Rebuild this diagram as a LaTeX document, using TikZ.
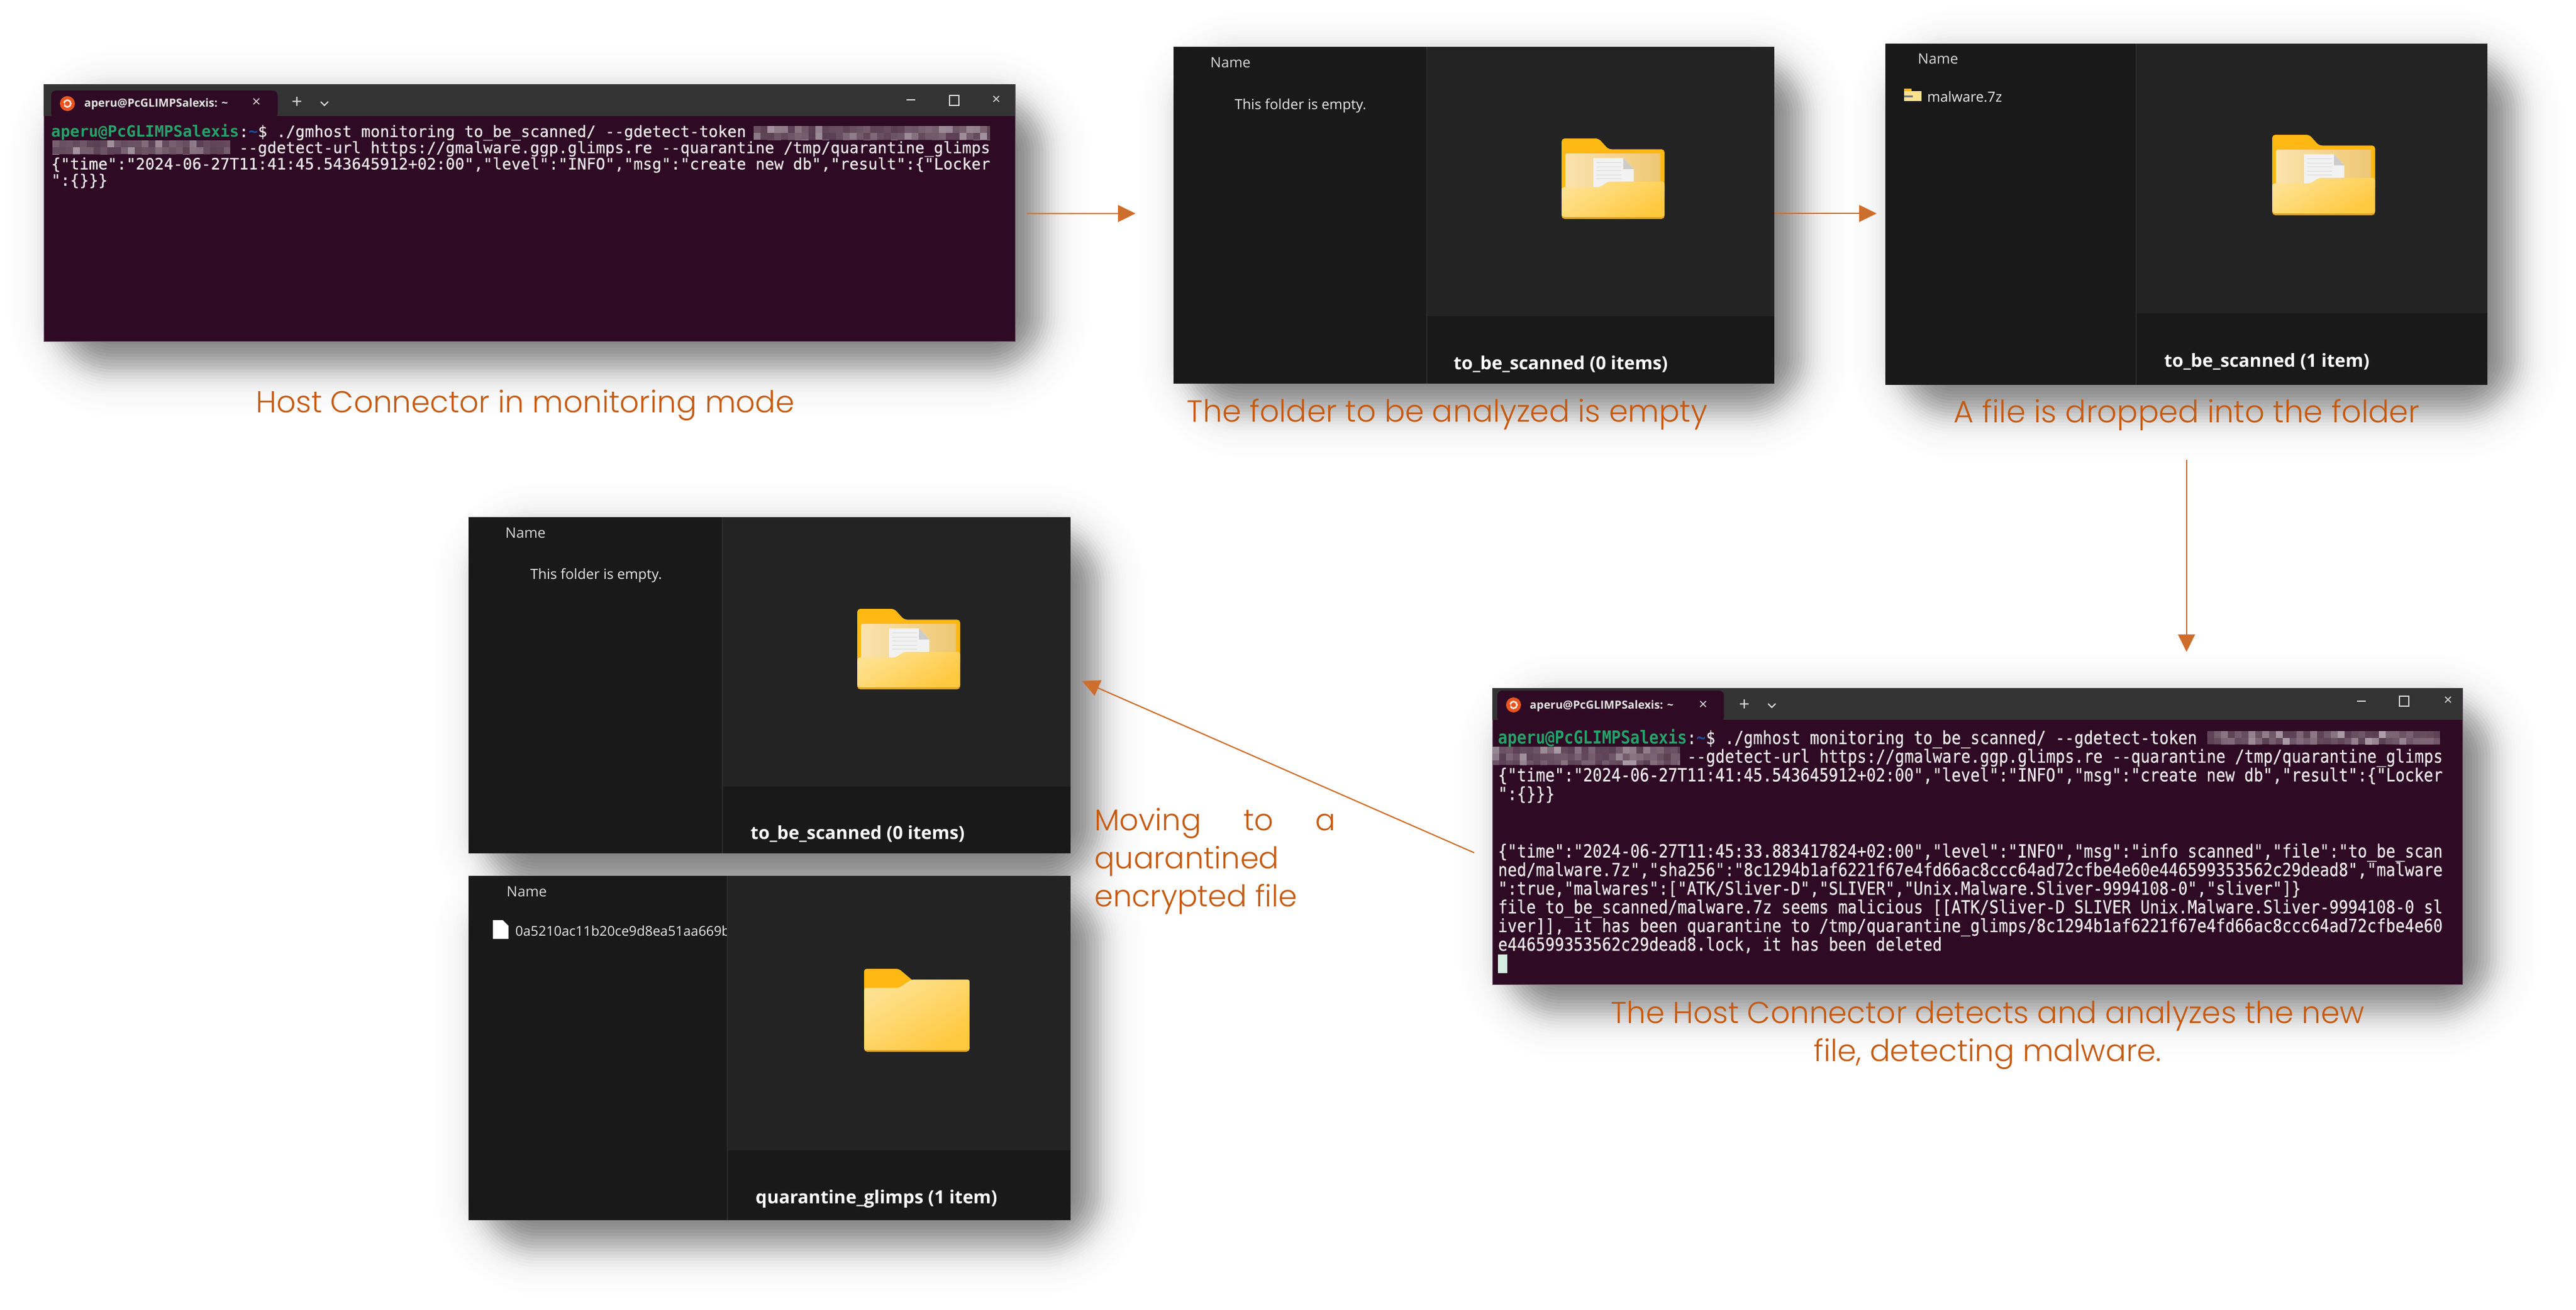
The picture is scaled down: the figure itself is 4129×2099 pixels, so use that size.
\documentclass[tikz,border=0pt]{standalone}
\usepackage{fontspec}
\usetikzlibrary{arrows.meta,calc}
\newfontfamily\capfont{Poppins Light}
\newfontfamily\termfont[UprightFeatures={FakeBold=0.35}]{DejaVu Sans Mono}
\newfontfamily\uifont{Open Sans}
\definecolor{termbg}{HTML}{2E0A24}
\definecolor{termbar}{HTML}{333333}
\definecolor{termtext}{HTML}{EDE9EB}
\definecolor{promptgreen}{HTML}{26A269}
\definecolor{promptblue}{HTML}{1B4F9C}
\definecolor{panelbg}{HTML}{191919}
\definecolor{paneright}{HTML}{232323}
\definecolor{panediv}{HTML}{2B2B2B}
\definecolor{capcol}{HTML}{C55A11}
\definecolor{arrowcol}{HTML}{CE6E2C}
\definecolor{foldback}{HTML}{FDB813}
\definecolor{paperlight}{HTML}{FBE3AC}
\definecolor{papertan}{HTML}{EEC774}
\definecolor{foldlight}{HTML}{FEE190}
\definecolor{folddark}{HTML}{FFC93F}
\definecolor{foldedge}{HTML}{E9A21A}
\definecolor{ubuorange}{HTML}{E95420}
\tikzset{
  panel/.style={anchor=north west,fill=panelbg,inner sep=0pt,minimum width=#1},
  termwin/.style={anchor=north west,fill=termbg,draw=termbg!65!white,line width=1pt,inner sep=0pt,minimum width=#1},
  flow/.style={draw=arrowcol,line width=2pt,-{Triangle[length=28pt,width=27pt,fill=arrowcol]}},
  caption/.style={text=capcol,font=\capfont\fontsize{#1}{61}\selectfont,inner sep=0pt},
  termtxt/.style={anchor=north west,inner sep=0pt,align=left,text=termtext,font=\termfont\fontsize{#1}{26}\selectfont},
  nameLbl/.style={anchor=west,inner sep=0pt,text=white!85!black,font=\uifont\fontsize{23}{26}\selectfont},
  itemLbl/.style={anchor=west,inner sep=0pt,text=white!92!black,font=\uifont\fontsize{#1}{26}\selectfont},
  statusLbl/.style={anchor=west,inner sep=0pt,text=white,font=\uifont\bfseries\fontsize{29}{32}\selectfont},
  tabLbl/.style={anchor=west,inner sep=0pt,text=white!90!black,font=\uifont\bfseries\fontsize{18}{20}\selectfont},
  ctrlLbl/.style={inner sep=0pt,text=white!85!black,font=\uifont\fontsize{#1}{26}\selectfont},
  ctrlLine/.style={white!85!black,line width=2pt},
}
\newcommand{\softshadow}[4]{%
  \foreach \m in {-72,-67,...,88}{%
    \pgfmathsetmacro{\wgt}{max(0.002,0.041*exp(-(\m/43)*(\m/43)))}%
    \pgfmathsetmacro{\rad}{78+\m}%
    \fill[black,opacity=\wgt,rounded corners=\rad pt]
      ({#1+32-(\m)},{#2+32-(\m)}) rectangle ({#3+32+(\m)},{#4+32+(\m)});}}
\newcommand{\mosaic}[4]{%
  \begin{scope}
    \clip (#1,#2) rectangle (#3,#4);
    \fill[termbg!80!white] (#1,#2) rectangle (#3,#4);
    \pgfmathtruncatemacro{\nx}{#1+11}\pgfmathtruncatemacro{\ny}{#2+11}%
    \foreach \xx in {#1,\nx,...,#3}{\foreach \yy in {#2,\ny,...,#4}{%
      \pgfmathsetmacro{\op}{0.02+0.55*rnd*rnd}%
      \fill[white,opacity=\op] (\xx,\yy) rectangle +(11,11);}}
  \end{scope}}
\newcommand{\openfolder}[2]{%
  \begin{scope}[shift={(#1,#2)},x=165pt,y=-129pt]
    \fill[foldback,rounded corners=5pt] (0,.7) -- (0,0) -- (.36,0) -- (.455,.134) -- (1,.134) -- (1,.7) -- cycle;
    \shade[left color=paperlight,right color=papertan,rounded corners=2pt] (.04,.186) rectangle (.96,.65);
    \fill[white!95!black] (.31,.243) -- (.6,.243) -- (.70,.38) -- (.70,.58) -- (.31,.66) -- cycle;
    \fill[white!80!black] (.6,.243) -- (.6,.38) -- (.70,.38) -- cycle;
    \foreach \ly in {.30,.35,.40,.45,.50}{\draw[white!86!black,line width=1pt] (.34,\ly) -- (.58,\ly);}
    \fill[foldedge,rounded corners=5pt] (0,.9) -- (1,.9) -- (1,1) -- (0,1) -- cycle;
    \shade[top color=foldlight,bottom color=folddark,shading angle=30,rounded corners=4pt]
      (0,.975) -- (0,.605) -- (.37,.605) -- (.455,.535) -- (1,.535) -- (1,.975) -- cycle;
  \end{scope}}
\newcommand{\closedfolder}[2]{%
  \begin{scope}[shift={(#1,#2)},x=169pt,y=-133pt]
    \fill[foldback,rounded corners=4pt] (0,.4) -- (0,0) -- (.33,0) -- (.45,.13) -- (.6,.3) -- (0,.3) -- cycle;
    \fill[foldedge,rounded corners=5pt] (0,.9) -- (1,.9) -- (1,1) -- (0,1) -- cycle;
    \shade[top color=foldlight,bottom color=folddark,shading angle=30,rounded corners=3pt]
      (0,.98) -- (0,.23) -- (.33,.23) -- (.45,.13) -- (1,.13) -- (1,.98) -- cycle;
  \end{scope}}
\newcommand{\ubuntuicon}[2]{%
  \fill[ubuorange] (#1,#2) circle (12pt);
  \draw[white!90!ubuorange,line width=2.5pt] (#1,#2) circle (5.5pt);
  \fill[ubuorange] ({#1-7},{#2+1}) circle (2.5pt);}
\pgfmathsetseed{12}
\begin{document}
\begin{tikzpicture}[x=1pt,y=-1pt]
\useasboundingbox (0,0) rectangle (4129,2099);
\fill[white] (0,0) rectangle (4129,2099);

% shadows
\softshadow{70}{135}{1627}{547}
\softshadow{1881}{75}{2844}{615}
\softshadow{3022}{70}{3987}{617}
\softshadow{751}{829}{1716}{1368}
\softshadow{751}{1404}{1716}{1956}
\softshadow{2392}{1103}{3947}{1578}

% terminal 1
\node[termwin=1557pt,minimum height=412pt] (term1) at (70,135) {};
\fill[termbar] (70,135) rectangle (1627,186);
\fill[termbg,rounded corners=8pt] (82,190) -- (82,145) -- (445,145) -- (445,190) -- cycle;
\ubuntuicon{108}{166}
\node[tabLbl] (t1tab) at (135,167) {aperu@PcGLIMPSalexis: \textasciitilde};
\node[ctrlLbl=24] (t1x) at (411,165) {×};
\node[ctrlLbl=30] (t1plus) at (476,165) {+};
\draw[ctrlLine] (514,163) -- (520,169) -- (526,163);
\draw[ctrlLine] (1453,160) -- (1467,160);
\draw[ctrlLine] (1522,153) rectangle (1537,169);
\node[ctrlLbl=24] (t1close) at (1597,161) {×};
\mosaic{1208}{202}{1587}{224}
\mosaic{84}{225}{369}{247}
\node[termtxt=25] (t1text) at (82,199) {\textcolor{promptgreen}{\bfseries aperu@PcGLIMPSalexis}:\textcolor{promptblue}{\bfseries\textasciitilde}\$ ./gmhost monitoring to\_be\_scanned/ {-}{-}gdetect-token\\
\hspace*{301pt}{-}{-}gdetect-url https://gmalware.ggp.glimps.re {-}{-}quarantine /tmp/quarantine\_glimps\\
\{"time":"2024-06-27T11:41:45.543645912+02:00","level":"INFO","msg":"create new db","result":\{"Locker\\
":\{\}\}\}};

% terminal 2
\node[termwin=1555pt,minimum height=475pt] (term2) at (2392,1103) {};
\fill[termbar] (2392,1103) rectangle (3947,1154);
\fill[termbg,rounded corners=8pt] (2400,1158) -- (2400,1107) -- (2763,1107) -- (2763,1158) -- cycle;
\ubuntuicon{2426}{1130}
\node[tabLbl] (t2tab) at (2452,1132) {aperu@PcGLIMPSalexis: \textasciitilde};
\node[ctrlLbl=24] (t2x) at (2730,1131) {×};
\node[ctrlLbl=30] (t2plus) at (2796,1131) {+};
\draw[ctrlLine] (2834,1128) -- (2840,1134) -- (2846,1128);
\draw[ctrlLine] (3778,1124) -- (3792,1124);
\draw[ctrlLine] (3846,1116) rectangle (3861,1132);
\node[ctrlLbl=24] (t2close) at (3924,1124) {×};
\mosaic{3538}{1172}{3911}{1193}
\mosaic{2392}{1197}{2693}{1226}
\node[termtxt=25.15,yscale=1.15,transform shape] (t2text) at (2401,1169) {\textcolor{promptgreen}{\bfseries aperu@PcGLIMPSalexis}:\textcolor{promptblue}{\bfseries\textasciitilde}\$ ./gmhost monitoring to\_be\_scanned/ {-}{-}gdetect-token\\
\hspace*{303pt}{-}{-}gdetect-url https://gmalware.ggp.glimps.re {-}{-}quarantine /tmp/quarantine\_glimps\\
\{"time":"2024-06-27T11:41:45.543645912+02:00","level":"INFO","msg":"create new db","result":\{"Locker\\
":\{\}\}\}\\
\strut\\
\strut\\
\{"time":"2024-06-27T11:45:33.883417824+02:00","level":"INFO","msg":"info scanned","file":"to\_be\_scan\\
ned/malware.7z","sha256":"8c1294b1af6221f67e4fd66ac8ccc64ad72cfbe4e60e446599353562c29dead8","malware\\
":true,"malwares":["ATK/Sliver-D","SLIVER","Unix.Malware.Sliver-9994108-0","sliver"]\}\\
file to\_be\_scanned/malware.7z seems malicious [[ATK/Sliver-D SLIVER Unix.Malware.Sliver-9994108-0 sl\\
iver]], it has been quarantine to /tmp/quarantine\_glimps/8c1294b1af6221f67e4fd66ac8ccc64ad72cfbe4e60\\
e446599353562c29dead8.lock, it has been deleted};
\fill[white!80!promptgreen] (2401,1530) rectangle (2416,1560);

% explorer A
\node[panel=963pt,minimum height=540pt] (expA) at (1881,75) {};
\fill[paneright] (2288,75) rectangle (2844,507);
\draw[panediv,line width=2pt] (2287,75) -- (2287,615);
\node[nameLbl] (aName) at (1940,100) {Name};
\node[itemLbl=22.5] (aEmpty) at (1979,170) {This folder is empty.};
\node[statusLbl] (aStatus) at (2330,584) {to\_be\_scanned (0 items)};
\openfolder{2503}{222}

% explorer B
\node[panel=965pt,minimum height=547pt] (expB) at (3022,70) {};
\fill[paneright] (3425,70) rectangle (3987,502);
\draw[panediv,line width=2pt] (3424,70) -- (3424,617);
\node[nameLbl] (bName) at (3074,94) {Name};
\fill[foldback] (3052,142) rectangle (3064,150);
\fill[foldlight] (3052,146) rectangle (3080,162);
\fill[black!55] (3052,153) rectangle (3066,156);
\node[itemLbl=22.5] (bFile) at (3089,155) {malware.7z};
\node[statusLbl] (bStatus) at (3469,580) {to\_be\_scanned (1 item)};
\openfolder{3642}{216}

% explorer C
\node[panel=965pt,minimum height=539pt] (expC) at (751,829) {};
\fill[paneright] (1159,829) rectangle (1716,1261);
\draw[panediv,line width=2pt] (1158,829) -- (1158,1368);
\node[nameLbl] (cName) at (810,854) {Name};
\node[itemLbl=22.5] (cEmpty) at (850,923) {This folder is empty.};
\node[statusLbl] (cStatus) at (1203,1337) {to\_be\_scanned (0 items)};
\openfolder{1374}{976}

% explorer D
\node[panel=965pt,minimum height=552pt] (expD) at (751,1404) {};
\begin{scope}
  \clip (751,1404) rectangle (1166,1956);
  \node[itemLbl=21.7] (dFile) at (826,1492) {0a5210ac11b20ce9d8ea51aa669b};
\end{scope}
\fill[paneright] (1167,1404) rectangle (1716,1844);
\draw[panediv,line width=2pt] (1166,1404) -- (1166,1956);
\node[nameLbl] (dName) at (812,1429) {Name};
\fill[white] (790,1475) -- (806,1475) -- (815,1484) -- (815,1505) -- (790,1505) -- cycle;
\node[statusLbl] (dStatus) at (1211,1922) {quarantine\_glimps (1 item)};
\closedfolder{1385}{1553}

% captions
\node[caption=48.5] (cap1) at (842,650) {Host Connector in monitoring mode};
\node[caption=49] (cap2) at (2320,664) {The folder to be analyzed is empty};
\node[caption=49.5] (cap3) at (3505,665) {A file is dropped into the folder};
\node[caption=48,anchor=north west,align=left] (cap4) at (1754,1295) {\makebox[387pt][s]{Moving\hfill to\hfill a}\\quarantined\\encrypted file};
\node[caption=48.5,align=center] (cap5) at (3186,1660) {The Host Connector detects and analyzes the new\\file, detecting malware.};

% connectors
\draw[flow,shorten <=18pt,shorten >=61pt] ([yshift=-1pt]term1.east) -- ([yshift=3pt]expA.west);
\draw[flow,shorten >=14pt] ([yshift=3pt]expA.east) -- ([yshift=1.5pt]expB.west);
\draw[flow,shorten <=120pt,shorten >=58pt] (expB.south) -- (expB.south |- term2.north);
\draw[flow] ([xshift=-29pt,yshift=-26pt]term2.west) -- ([xshift=18pt,yshift=7pt]expC.east);
\end{tikzpicture}
\end{document}
